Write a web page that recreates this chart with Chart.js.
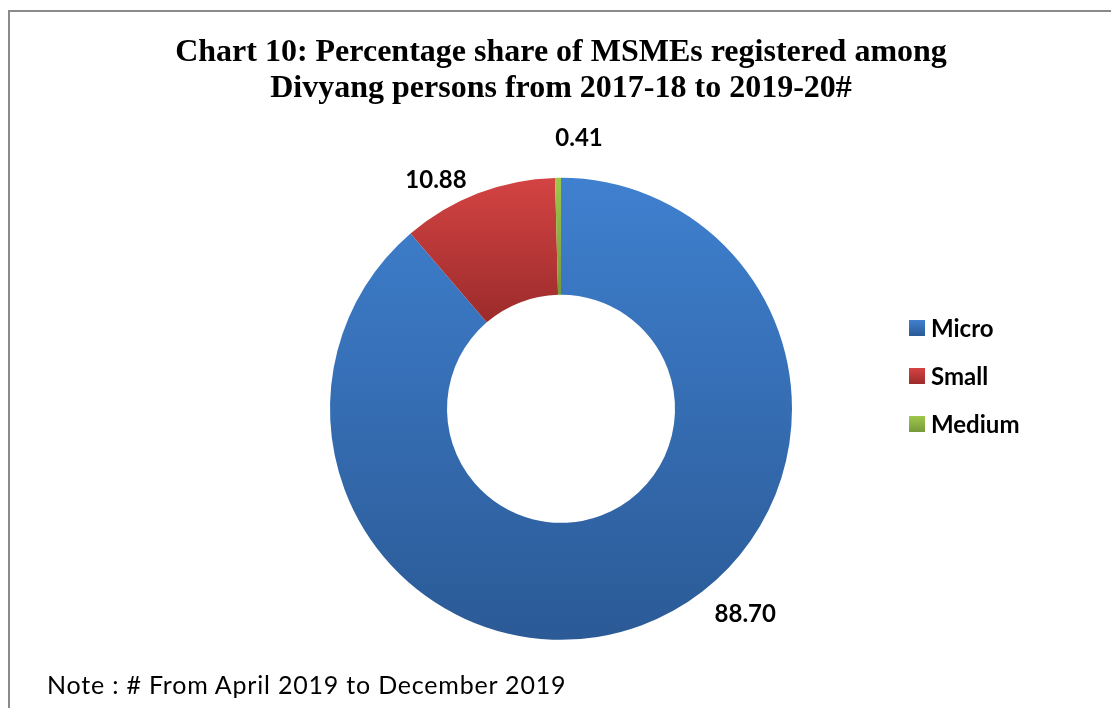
<!DOCTYPE html>
<html>
<head>
<meta charset="utf-8">
<script src="https://cdn.jsdelivr.net/npm/chart.js@4.4.1/dist/chart.umd.min.js"></script>
<style>
html, body { margin: 0; padding: 0; background: #fff; overflow: hidden; }
#frame { position: absolute; left: 8px; top: 10px; width: 1200px; height: 800px; border-left: 2px solid #8a8a8a; border-top: 2px solid #8a8a8a; }
#wrap { position: absolute; left: 0; top: 0; width: 1111px; height: 708px; }
#note { position: absolute; left: 47px; top: 669px; font: 25px Lato, sans-serif; letter-spacing: 0.8px; color: #000; white-space: nowrap; }
</style>
</head>
<body>
<div id="frame"></div>
<div id="wrap"><canvas id="myChart"></canvas></div>
<div id="note">Note : # From April 2019 to December 2019</div>
<script>
var categories = ["Micro", "Small", "Medium"];
var shares = [88.70, 10.88, 0.41];
var titleLines = [
    "Chart 10: Percentage share of MSMEs registered among",
    "Divyang persons from 2017-18 to 2019-20#"
];

var topColors = ["#3f80cf", "#d44343", "#9ec84b"];
var bottomColors = ["#2b5a96", "#9c2b2b", "#77993a"];
// label shift from the middle of each slice's outer edge
var labelOffsets = [[104, -11], [-42, -13], [21, -40]];

var RING_OUT = 231;
var RING_IN = 114;

function segmentGradient(ctx){
    var chart = ctx.chart;
    var area = chart.chartArea;
    var i = ctx.dataIndex;
    if (i === undefined) return topColors[0];
    if (!area) return topColors[i];
    var cx = (area.left + area.right) / 2;
    var cy = (area.top + area.bottom) / 2;
    var total = 0, before = 0;
    for (var j = 0; j < shares.length; j++){
        total += shares[j];
        if (j < i) before += shares[j];
    }
    var a0 = before / total * 2 * Math.PI;
    var a1 = (before + shares[i]) / total * 2 * Math.PI;
    var ymin = Infinity, ymax = -Infinity;
    for (var k = 0; k <= 60; k++){
        var a = a0 + (a1 - a0) * k / 60;
        [RING_OUT, RING_IN].forEach(function(r){
            var y = cy - r * Math.cos(a);
            if (y < ymin) ymin = y;
            if (y > ymax) ymax = y;
        });
    }
    var g = chart.ctx.createLinearGradient(0, ymin, 0, ymax);
    g.addColorStop(0, topColors[i]);
    g.addColorStop(1, bottomColors[i]);
    return g;
}

var sideLegend = {
    id: 'sideLegend',
    afterDraw: function(chart, args, opts){
        var c = chart.ctx;
        c.save();
        c.font = 'bold 24px Lato';
        c.textBaseline = 'middle';
        categories.forEach(function(name, i){
            var y = opts.top + i * opts.rowGap;
            var g = c.createLinearGradient(0, y - 8, 0, y + 8);
            g.addColorStop(0, topColors[i]);
            g.addColorStop(1, bottomColors[i]);
            c.fillStyle = g;
            c.fillRect(opts.left, y - 8, 16, 16);
            c.fillStyle = '#000';
            c.fillText(name, opts.left + 22, y + 1);
        });
        c.restore();
    }
};

var sliceLabels = {
    id: 'sliceLabels',
    afterDatasetsDraw: function(chart){
        var c = chart.ctx;
        var meta = chart.getDatasetMeta(0);
        c.save();
        c.font = 'bold 24px Lato';
        c.fillStyle = '#000';
        c.textAlign = 'center';
        c.textBaseline = 'middle';
        meta.data.forEach(function(arc, i){
            var p = arc.getProps(['x', 'y', 'startAngle', 'endAngle', 'outerRadius'], true);
            var mid = (p.startAngle + p.endAngle) / 2;
            var x = p.x + Math.cos(mid) * p.outerRadius + labelOffsets[i][0];
            var y = p.y + Math.sin(mid) * p.outerRadius + labelOffsets[i][1];
            c.fillText(shares[i].toFixed(2), x, y);
        });
        c.restore();
    }
};

var myChart = new Chart(document.getElementById('myChart').getContext('2d'), {
    type: 'doughnut',
    data: {
        labels: categories,
        datasets: [{
            data: shares,
            backgroundColor: segmentGradient,
            borderWidth: 0
        }]
    },
    options: {
        responsive: true,
        maintainAspectRatio: false,
        animation: false,
        radius: RING_OUT,
        cutout: (RING_IN / RING_OUT * 100) + '%',
        layout: { padding: { left: 11, right: 0, top: 0, bottom: 10 } },
        plugins: {
            legend: { display: false },
            tooltip: { enabled: false },
            title: {
                display: true,
                text: titleLines,
                color: '#000',
                font: { family: 'Liberation Serif', size: 32, weight: 'bold', lineHeight: 1.15 },
                padding: { top: 34, bottom: 12 }
            },
            sideLegend: { left: 909, top: 328, rowGap: 48 }
        }
    },
    plugins: [sideLegend, sliceLabels]
});
</script>
</body>
</html>
